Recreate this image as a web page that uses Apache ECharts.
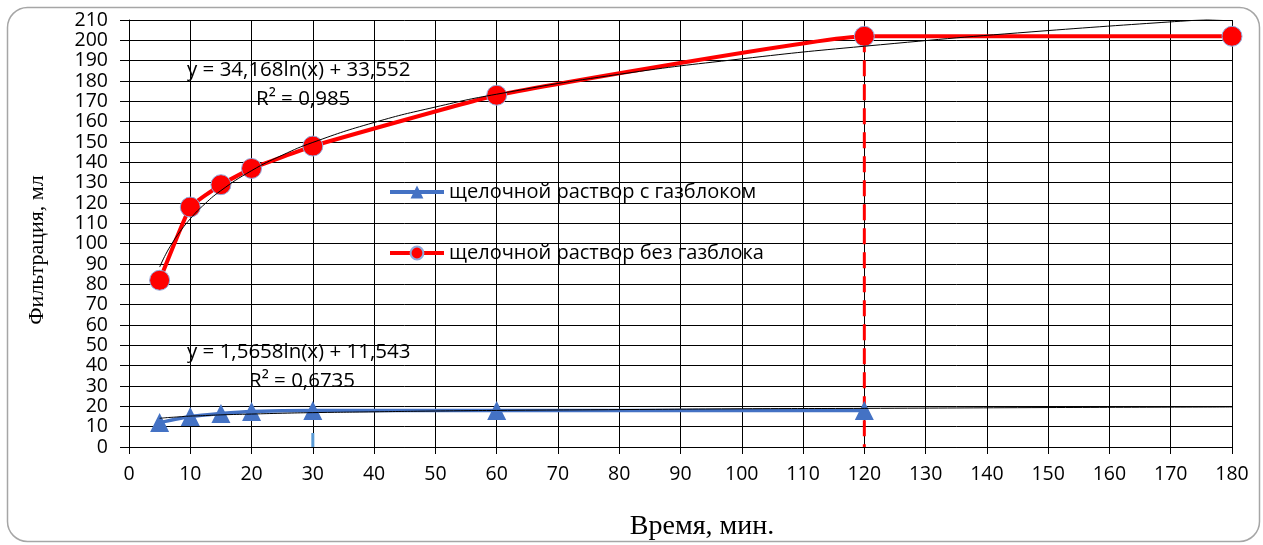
<!DOCTYPE html>
<html><head><meta charset="utf-8">
<script src="https://cdn.jsdelivr.net/npm/echarts@6/dist/echarts.min.js"></script>
<style>html,body{margin:0;padding:0;background:#fff}#c{width:1263px;height:545px}</style>
</head><body><div id="c"></div>
<script>
const xTime = [5, 10, 15, 20, 30, 60, 120, 180];
const redValues = [82, 118, 129, 137, 148, 173, 202, 202];
const blueX = [5, 10, 15, 20, 30, 60, 120];
const blueValues = [12, 15, 16.5, 17.5, 18, 18, 18];
// trend lines
const trendX = [5, 6, 7, 8, 10, 12, 15, 20, 25, 30, 40, 50, 60, 80, 100, 120, 150, 180];
const redTrend = [88.5, 94.8, 100.0, 104.6, 112.2, 118.5, 126.1, 135.9, 143.5, 149.8, 159.6, 167.2, 173.5, 183.3, 190.9, 197.1, 204.8, 211.0];
const blueTrend = [14.1, 14.4, 14.6, 14.8, 15.2, 15.4, 15.8, 16.2, 16.6, 16.9, 17.3, 17.7, 18.0, 18.4, 18.8, 19.0, 19.4, 19.7];
const seriesNames = ['щелочной раствор с газблоком', 'щелочной раствор без газблока'];
const redEq = ['y = 34,168ln(x) + 33,552', 'R² = 0,985'];
const blueEq = ['y = 1,5658ln(x) + 11,543', 'R² = 0,6735'];
const xName = 'Время, мин.';
const yName = 'Фильтрация, мл';
const redDrop = [[120, 202], [120, 0]];
const blueDrop = [[30, 0], [30, 7]];

const zip = (xs, ys) => xs.map((x, i) => [x, ys[i]]);
const font = 'Open Sans';
const eqFont = '20.5px "' + font + '"';
const chart = echarts.init(document.getElementById('c'));
chart.setOption({
  animation: false,
  grid: { left: 129, right: 31, top: 20, bottom: 98 },
  xAxis: {
    type: 'value', min: 0, max: 180, interval: 10,
    axisLine: { show: true, lineStyle: { color: '#000', width: 1 } },
    axisTick: { show: true, length: 7, lineStyle: { color: '#000' } },
    axisLabel: { color: '#000', fontSize: 19.5, fontFamily: font, margin: 17 },
    splitLine: { show: true, lineStyle: { color: '#000', width: 1 } }
  },
  yAxis: {
    type: 'value', min: 0, max: 210, interval: 10,
    axisLine: { show: true, lineStyle: { color: '#000', width: 1 } },
    axisTick: { show: true, inside: false, length: 9, lineStyle: { color: '#000' } },
    axisLabel: { color: '#000', fontSize: 19.5, fontFamily: font, margin: 21, lineHeight: 18 },
    splitLine: { show: true, lineStyle: { color: '#000', width: 1 } }
  },
  legend: {
    orient: 'vertical', left: 383, top: 177, itemGap: 41,
    itemWidth: 54, itemHeight: 16,
    textStyle: { fontFamily: font, fontSize: 20, color: '#000' },
    data: [
      { name: seriesNames[0], lineStyle: { width: 4 } },
      { name: seriesNames[1], lineStyle: { width: 4 } }
    ]
  },
  graphic: [
    { type: 'rect', left: 5, top: 5, shape: { width: 1252, height: 534, r: 20 }, style: { fill: 'none', stroke: '#a6a6a6', lineWidth: 1.5 }, z: -1 },
    { type: 'text', left: 187, top: 60, style: { text: redEq[0], font: eqFont, fill: '#000' } },
    { type: 'text', left: 256, top: 89, style: { text: redEq[1], font: eqFont, fill: '#000' } },
    { type: 'text', left: 187, top: 342, style: { text: blueEq[0], font: eqFont, fill: '#000' } },
    { type: 'text', left: 249, top: 371, style: { text: blueEq[1], font: eqFont, fill: '#000' } },
    { type: 'text', x: 702, y: 527, style: { text: xName, font: '28px "Liberation Serif"', fill: '#000', align: 'center', verticalAlign: 'middle' } },
    { type: 'text', x: 37, y: 250, rotation: Math.PI / 2, style: { text: yName, font: '22px "Liberation Serif"', fill: '#000', align: 'center', verticalAlign: 'middle' } }
  ],
  series: [
    {
      name: seriesNames[0], type: 'line', smooth: 0.2,
      data: zip(blueX, blueValues),
      symbol: 'triangle', symbolSize: 19,
      itemStyle: { color: '#4472c4' },
      lineStyle: { color: '#4472c4', width: 3.5 }, z: 3
    },
    {
      name: seriesNames[1], type: 'line', smooth: 0.1,
      data: zip(xTime, redValues),
      symbol: 'circle', symbolSize: 20,
      itemStyle: { color: '#ff0000', borderColor: '#8faadc', borderWidth: 1 },
      lineStyle: { color: '#ff0000', width: 4 }, z: 4
    },
    {
      name: 'redTrend', type: 'line', smooth: true, symbol: 'none', clip: true,
      data: zip(trendX, redTrend),
      lineStyle: { color: '#000', width: 1 }, z: 5, silent: true
    },
    {
      name: 'blueTrend', type: 'line', smooth: true, symbol: 'none',
      data: zip(trendX, blueTrend),
      lineStyle: { color: '#000', width: 1 }, z: 5, silent: true
    },
    {
      name: 'redDrop', type: 'line', symbol: 'none',
      data: redDrop,
      lineStyle: { color: '#ff0000', width: 3, type: [16, 8] }, z: 3, silent: true
    },
    {
      name: 'blueDrop', type: 'line', symbol: 'none',
      data: blueDrop,
      lineStyle: { color: '#5b9bd5', width: 3, type: [14, 8] }, z: 3, silent: true
    }
  ]
});
</script></body></html>
